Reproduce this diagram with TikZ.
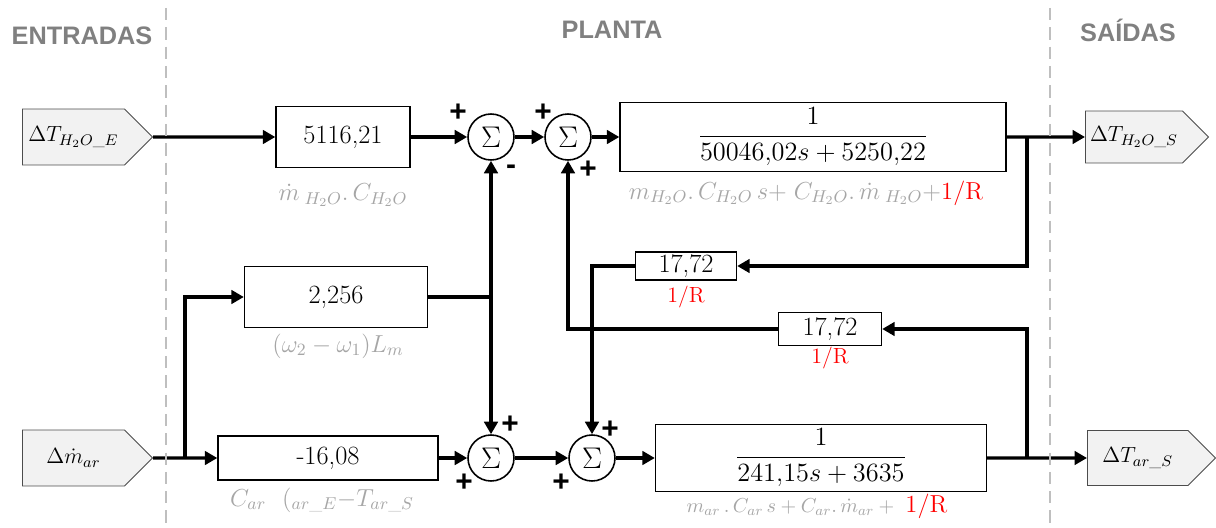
\RequirePackage{fix-cm}
\documentclass[tikz,border=0pt]{standalone}
\usepackage{amsmath}
\usepackage{fontspec}
\setsansfont{Liberation Sans}
\usetikzlibrary{arrows.meta, positioning, shapes.symbols}
\tikzset{
    gain/.style={rectangle, draw=black, line width=0.8pt, align=center, inner sep=0pt, font=\fontsize{15}{18}\selectfont},
    summ/.style={circle, draw=black, line width=0.9pt, minimum size=0.92cm, inner sep=0pt, font=\fontsize{17}{20}\selectfont},
    tag/.style={signal, signal to=east, signal pointer angle=90, draw=black!70, line width=0.5pt, fill=black!5, inner sep=2pt, anchor=west, align=center, font=\fontsize{12.5}{15}\selectfont},
    param/.style={text=black!35, font=\fontsize{14}{16}\selectfont},
    rlabel/.style={text=red, font=\fontsize{12.5}{14}\selectfont},
    sign/.style={font=\sffamily\bfseries\fontsize{17}{20}\selectfont},
    heading/.style={text=black!50, font=\sffamily\bfseries\fontsize{14.4}{17}\selectfont},
    arrow/.style={line width=1.9pt, -{Triangle[length=2.5mm, width=2.7mm]}},
    wire/.style={line width=1.9pt},
    divider/.style={black!25, line width=1pt, dash pattern=on 7pt off 4pt}
}
\begin{document}
\begin{tikzpicture}[x=0.02cm, y=-0.02cm]
    \useasboundingbox (0,0) rectangle (1216,527);

    \node[heading] (hin) at (82,36) {ENTRADAS};
    \node[heading] (hpl) at (612,30) {PLANTA};
    \node[heading] (hout) at (1128,30) {SAÍDAS};

    \node[tag, text width=1.9cm, minimum height=1.12cm] (in1) at (22,137) {$\Delta T_{H_2O\_E}$};
    \node[tag, text width=1.9cm, minimum height=1.12cm] (in2) at (22,458) {$\Delta \dot m_{ar}$};
    \node[tag, text width=1.8cm, minimum height=1.04cm] (out1) at (1085,137) {$\Delta T_{H_2O\_S}$};
    \node[tag, text width=1.87cm, minimum height=1.1cm] (out2) at (1087,458) {$\Delta T_{ar\_S}$};

    \node[gain, minimum width=2.68cm, minimum height=1.22cm] (k1) at (343,137) {5116,21};
    \node[gain, minimum width=3.66cm, minimum height=1.22cm] (k2) at (336,297) {2,256};
    \node[gain, minimum width=4.4cm, minimum height=0.88cm] (k3) at (328,458) {-16,08};
    \node[gain, minimum width=2.02cm, minimum height=0.56cm] (fb1) at (686,266) {17,72};
    \node[gain, minimum width=2.06cm, minimum height=0.66cm] (fb2) at (830,329) {17,72};
    \node[gain, minimum width=7.72cm, minimum height=1.38cm] (g1) at (813,137) {$\dfrac{1}{50046{,}02s + 5250{,}22}$};
    \node[gain, minimum width=6.62cm, minimum height=1.34cm] (g2) at (821,458) {$\dfrac{1}{241{,}15s + 3635}$};

    \node[summ] (s1) at (491,137) {$\Sigma$};
    \node[summ] (s2) at (568,137) {$\Sigma$};
    \node[summ] (s3) at (491,458) {$\Sigma$};
    \node[summ] (s4) at (592,458) {$\Sigma$};

    \node[param] (l1) at (343,195) {$\dot m_{\;H_2O}.\,C_{H_2O}$};
    \node[param] (l2) at (338,346) {$(\omega_2-\omega_1)L_m$};
    \node[param] (l3) at (322,500) {$C_{ar}\ \ (_{ar\_E}-T_{ar\_S}$};
    \node[param] (l4) at (806,193) {$m_{H_2O}.\,C_{H_2O}\,s{+}\;C_{H_2O}.\,\dot m_{\;H_2O}+$\textcolor{red}{1/R}};
    \node[param, font=\fontsize{11.5}{14}\selectfont] (l5) at (817,506) {$m_{ar}\,.\,C_{ar}\,s+C_{ar}.\,\dot m_{ar}+{}$\ \textcolor{red}{\fontsize{14}{16}\selectfont 1/R}};
    \node[rlabel] (r1) at (686,297) {1/R};
    \node[rlabel] (r2) at (830,358) {1/R};

    \node[sign] (p1) at (458,113) {+};
    \node[sign] (m1) at (511,170) {-};
    \node[sign] (p2) at (543,113) {+};
    \node[sign] (p3) at (588,170) {+};
    \node[sign] (p4) at (510,425) {+};
    \node[sign] (p5) at (464,483) {+};
    \node[sign] (p6) at (610,430) {+};
    \node[sign] (p7) at (561,483) {+};

    \coordinate (sp) at (185,458);
    \coordinate (jn) at (491,297);
    \coordinate (b1) at (1027,137);
    \coordinate (b2) at (1027,458);

    \draw[arrow] (in1) -- (k1);
    \draw[arrow] (k1) -- (s1);
    \draw[arrow] (s1) -- (s2);
    \draw[arrow] (s2) -- (g1);
    \draw[arrow] (g1) -- (out1);
    \draw[arrow] (b1) |- (fb1.east);
    \draw[arrow] (fb1.west) -| (s4.north);

    \draw[arrow] (in2) -- (k3);
    \draw[arrow] (sp) |- (k2.west);
    \draw[wire] (k2.east) -- (jn);
    \draw[arrow] (jn) -- (s1.south);
    \draw[arrow] (jn) -- (s3.north);
    \draw[arrow] (k3) -- (s3);
    \draw[arrow] (s3) -- (s4);
    \draw[arrow] (s4) -- (g2);
    \draw[arrow] (g2) -- (out2);
    \draw[arrow] (b2) |- (fb2.east);
    \draw[arrow] (fb2.west) -| (s2.south);

    \draw[divider] (166,8) -- (166,527);
    \draw[divider] (1050,8) -- (1050,527);
\end{tikzpicture}
\end{document}
